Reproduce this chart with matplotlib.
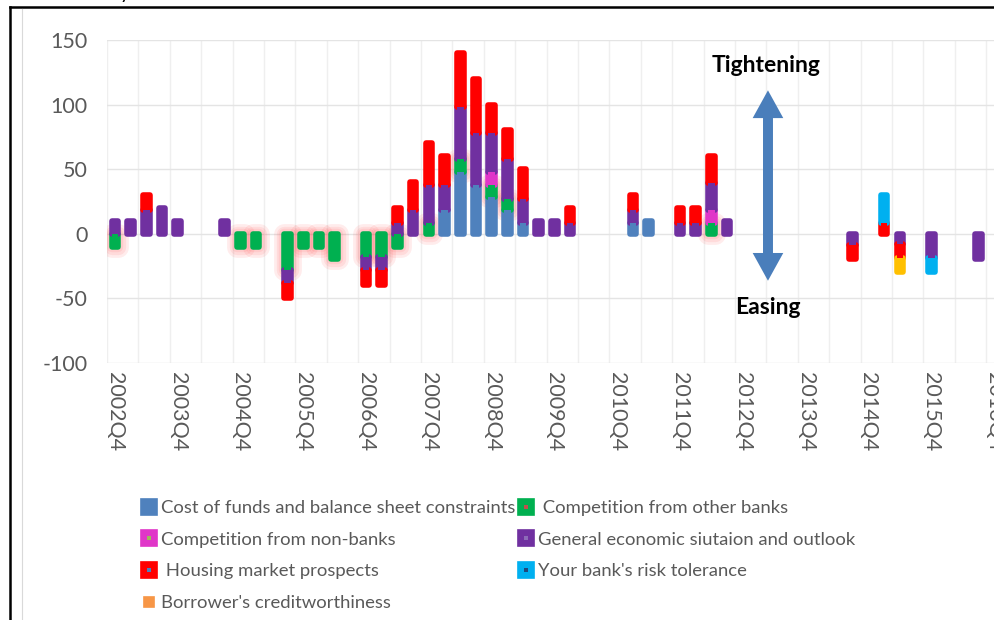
import matplotlib
matplotlib.use('Agg')
import numpy as np
import matplotlib.pyplot as plt
from matplotlib.lines import Line2D

plt.rcParams['font.family'] = ['Lato', 'DejaVu Sans']
plt.rcParams['axes.unicode_minus'] = False

# quarters 2002Q4 .. 2016Q4, one value per quarter
tick_labels = ['2002Q4', '2003Q4', '2004Q4', '2005Q4', '2006Q4', '2007Q4', '2008Q4',
               '2009Q4', '2010Q4', '2011Q4', '2012Q4', '2013Q4', '2014Q4', '2015Q4', '2016Q4']

cost_funds = [0,
              0, 0, 0, 0,  0, 0, 0, 0,  0, 0, 0, 0,  0, 0, 0, 0,  0, 0, 0, 0,
              18, 48, 38, 28,  18, 8, 0, 0,  0, 0, 0, 0,  8, 10, 0, 0,
              0, 0, 0, 0,  0, 0, 0, 0,  0, 0, 0, 0,  0, 0, 0, 0,  0, 0, 0, 0]
other_banks = [-10,
               0, 0, 0, 0,  0, 0, 0, -10,  -10, 0, -28, -10,  -10, -20, 0, -18,  -18, -10, 0, 8,
               0, 10, 0, 10,  9, 0, 0, 0,  0, 0, 0, 0,  0, 0, 0, 0,
               0, 8, 0, 0,  0, 0, 0, 0,  0, 0, 0, 0,  0, 0, 0, 0,  0, 0, 0, 0]
non_banks = [0,
             0, 0, 0, 0,  0, 0, 0, 0,  0, 0, 0, 0,  0, 0, 0, 0,  0, 0, 0, 0,
             0, 0, 0, 10,  0, 0, 0, 0,  0, 0, 0, 0,  0, 0, 0, 0,
             0, 10, 0, 0,  0, 0, 0, 0,  0, 0, 0, 0,  0, 0, 0, 0,  0, 0, 0, 0]
general = [10,
           10, 18, 20, 10,  0, 0, 10, 0,  0, 0, -10, 0,  0, 0, 0, -10,  -10, 8, 18, 30,
           20, 40, 40, 30,  31, 19, 10, 10,  8, 0, 0, 0,  10, 0, 0, 8,
           8, 21, 10, 0,  0, 0, 0, 0,  0, 0, -9, 0,  0, -8, 0, -19,  0, 0, -20, 0]
housing = [0,
           0, 12, 0, 0,  0, 0, 0, 0,  0, 0, -12, 0,  0, 0, 0, -12,  -12, 12, 22, 32,
           22, 42, 42, 22,  22, 23, 0, 0,  12, 0, 0, 0,  12, 0, 0, 12,
           12, 21, 0, 0,  0, 0, 0, 0,  0, 0, -11, 0,  8, -11, 0, 0,  0, 0, 0, 0]
risk_tolerance = [0,
                  0, 0, 0, 0,  0, 0, 0, 0,  0, 0, 0, 0,  0, 0, 0, 0,  0, 0, 0, 0,
                  0, 0, 0, 0,  0, 0, 0, 0,  0, 0, 0, 0,  0, 0, 0, 0,
                  0, 0, 0, 0,  0, 0, 0, 0,  0, 0, 0, 0,  22, 0, 0, -11,  0, 0, 0, 0]
creditworthiness = [0,
                    0, 0, 0, 0,  0, 0, 0, 0,  0, 0, 0, 0,  0, 0, 0, 0,  0, 0, 0, 0,
                    0, 0, 0, 0,  0, 0, 0, 0,  0, 0, 0, 0,  0, 0, 0, 0,
                    0, 0, 0, 0,  0, 0, 0, 0,  0, 0, 0, 0,  0, -11, 0, 0,  0, 0, 0, 0]

series = [
    ('Cost of funds and balance sheet constraints', cost_funds, '#4f81bd'),
    (' Competition from other banks', other_banks, '#00b050'),
    ('Competition from non-banks', non_banks, '#e036c8'),
    ('General economic siutaion and outlook', general, '#7030a0'),
    (' Housing market prospects', housing, '#ff0000'),
    ("Your bank's risk tolerance", risk_tolerance, '#00b0f0'),
    ("Borrower's creditworthiness", creditworthiness, '#ffc000'),
]

n = len(cost_funds)
x = np.arange(n)
W = 0.42
EDGE = 4

fig = plt.figure(figsize=(9.95, 6.2), dpi=100)
ax = fig.add_axes([107/995, 1-362.7/620, 888/995, 322.7/620])

pos_base = np.zeros(n)
neg_base = np.zeros(n)
for k, (label, vals, col) in enumerate(series):
    v = np.array(vals, dtype=float)
    base = np.where(v >= 0, pos_base, neg_base)
    m = v != 0
    if k == 1:
        # soft red glow around the green series
        for lw in (15, 11, 7.5):
            ax.bar(x[m], v[m], W, bottom=base[m], color=(1, 0.2, 0.2, 0.09),
                   edgecolor=(1, 0.2, 0.2, 0.09), linewidth=lw, joinstyle='round', zorder=1)
    ax.bar(x[m], v[m], W, bottom=base[m], color=col, edgecolor=col,
           linewidth=EDGE, joinstyle='round', zorder=2 + k*0.01)
    ax.bar(x[m], v[m], W, bottom=base[m], color=col, linewidth=0, zorder=3 + k*0.01)
    pos_base += np.where(v > 0, v, 0)
    neg_base += np.where(v < 0, v, 0)

ax.set_xlim(-0.5, -0.5 + 888/15.7)
ax.set_ylim(-100, 150)
ax.set_yticks([-100, -50, 0, 50, 100, 150])
ax.set_xticks(np.arange(0, n, 4))
ax.set_xticklabels(tick_labels, rotation=270)
ax.set_xticks(np.arange(-0.5, n, 2), minor=True)
ax.tick_params(axis='both', which='both', length=0, colors='#595959', labelsize=15.5)
ax.tick_params(axis='y', pad=14)
ax.tick_params(axis='x', pad=7)
ax.grid(axis='y', which='major', color='#e4e4e4', lw=1)
ax.grid(axis='x', which='minor', color='#efefef', lw=1)
ax.set_axisbelow(True)
for s in ax.spines.values():
    s.set_visible(False)

# tightening / easing arrow: two single-headed arrows whose shafts overlap
arrow_x, arrow_top, arrow_bot = 41.6, 111, -36.5
head = 21.5
for start, end in ((arrow_bot + head, arrow_top), (arrow_top - head, arrow_bot)):
    ax.arrow(arrow_x, start, 0, end - start, width=0.62, head_width=1.95, head_length=head,
             length_includes_head=True, color='#4a7ebb', lw=0, zorder=4)
ax.text(41.5, 130, 'Tightening', ha='center', va='center', fontsize=16.5, fontweight='bold')
ax.text(41.6, -57, 'Easing', ha='center', va='center', fontsize=16.5, fontweight='bold')

# legend, two columns placed separately
dots = {'#e036c8': '#9bbb59', '#ff0000': '#4f81bd', '#00b050': '#c0504d',
        '#7030a0': '#8d6bb8', '#00b0f0': '#1f497d'}

def handle(col, small=False):
    big = Line2D([], [], ls='none', marker='s', ms=7.5 if small else 11.5,
                 color='#f79646' if small else col, mew=1.2)
    if col in dots:
        return (big, Line2D([], [], ls='none', marker='s', ms=2.8, color=dots[col], mew=0))
    return big

col1 = [0, 2, 4, 6]
col2 = [1, 3, 5]
for idx, left in ((col1, 139), (col2, 516)):
    hs = [handle(series[i][2], small=(i == 6)) for i in idx]
    ls = [series[i][0] for i in idx]
    fig.legend(hs, ls, loc='upper left', bbox_to_anchor=(left/995, 1 - 500/620),
               bbox_transform=fig.transFigure, frameon=False, fontsize=13.3,
               labelcolor='#595959', borderpad=0, borderaxespad=0, handlelength=1.05,
               handletextpad=0.12, labelspacing=0.85)

# outer frame
fig.add_artist(Line2D([10/995, 10/995], [0, 1 - 7/620], transform=fig.transFigure, color='k', lw=1.8))
fig.add_artist(Line2D([10/995, 1], [1 - 7/620, 1 - 7/620], transform=fig.transFigure, color='k', lw=1.8))
fig.add_artist(Line2D([22/995, 22/995], [0, 1 - 9/620], transform=fig.transFigure, color='#d9d9d9', lw=0.8))
fig.text(125/995, 1 + 1/620, 'y', fontsize=14, va='baseline', ha='center')

fig.savefig('out.png', dpi=100)
